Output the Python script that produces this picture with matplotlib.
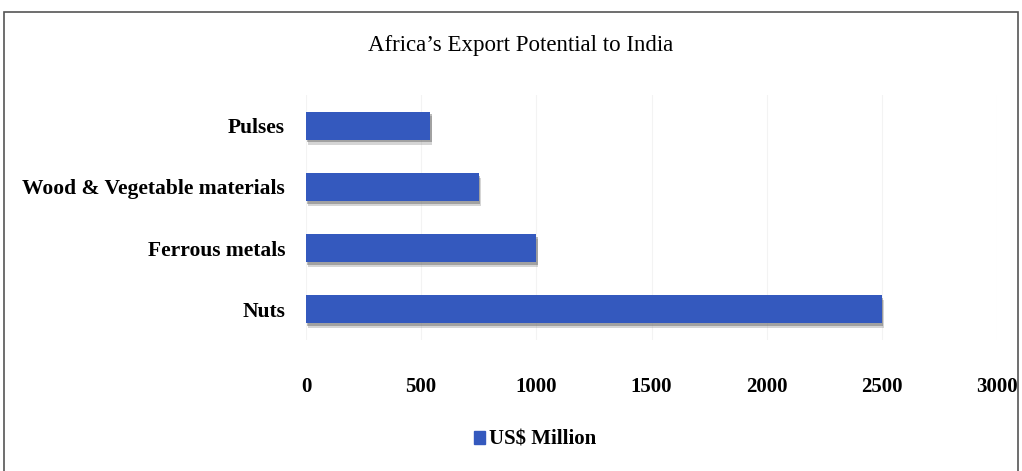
import matplotlib.pyplot as plt
import matplotlib.patheffects as pe
from matplotlib.patches import Rectangle, Patch

categories = ['Nuts', 'Ferrous metals', 'Wood & Vegetable materials', 'Pulses']
values = [2500, 1000, 750, 540]
xticks = [0, 500, 1000, 1500, 2000, 2500, 3000]
series_name = 'US$ Million'

plt.rcParams['font.family'] = ['Liberation Serif', 'DejaVu Serif']

fig = plt.figure(figsize=(10.22, 4.71), dpi=100)
ax = fig.add_axes([306 / 1022, 1 - 340 / 471, (997 - 306) / 1022, (340 - 95) / 471])

bars = ax.barh(range(len(categories)), values, height=0.46, color='#3459BE', zorder=3)
for b in bars:
    b.set_path_effects([pe.SimplePatchShadow(offset=(1.5, -3.5), shadow_rgbFace='#777777', alpha=0.3),
                        pe.SimplePatchShadow(offset=(1, -2), shadow_rgbFace='#555555', alpha=0.4),
                        pe.Normal()])

ax.set_xlim(0, 3000)
ax.set_ylim(-0.5, 3.5)
ax.set_xticks(xticks)
ax.set_xticklabels([str(t) for t in xticks], fontsize=15, fontweight='bold')
ax.set_yticks(range(len(categories)))
ax.set_yticklabels(categories, fontsize=15.5, fontweight='bold')
ax.tick_params(length=0)
ax.tick_params(axis='x', pad=27)
ax.tick_params(axis='y', pad=15)
ax.grid(axis='x', color='#f3f3f3', linewidth=0.8, zorder=0)
for s in ax.spines.values():
    s.set_visible(False)

fig.text(521 / 1022, 1 - 45 / 471, "Africa\u2019s Export Potential to India",
         ha='center', va='center', fontsize=16.5)

fig.legend(handles=[Patch(color='#3459BE', label=series_name)], loc='center',
           bbox_to_anchor=(535 / 1022, 1 - 440 / 471), frameon=False,
           prop={'size': 15, 'weight': 'bold'}, handlelength=0.55, handleheight=0.55,
           handletextpad=0.2)

fig.patches.append(Rectangle((4 / 1022, -0.05), 1014 / 1022, 1.05 - 12 / 471,
                             transform=fig.transFigure, fill=False,
                             edgecolor='#555555', linewidth=1.2))

fig.savefig('out.png', dpi=100)
